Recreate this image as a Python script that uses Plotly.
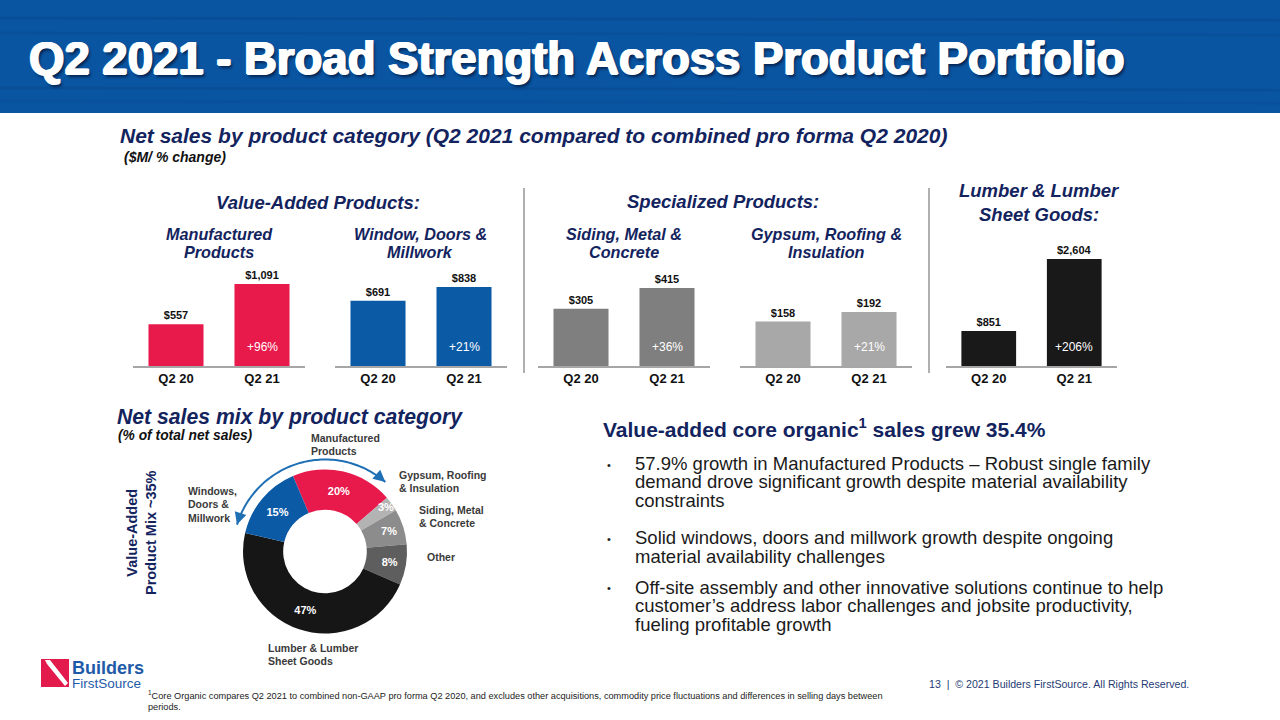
import numpy as np
import plotly.graph_objects as go

W, H = 1280, 720
FONT = "Liberation Sans"
NAVY = "#13235e"


def px(x):
    return x / W


def py(y):
    return 1 - y / H


# ---------------- data ----------------
quarters = ["Q2 20", "Q2 21"]
manufactured = [557, 1091]
windows_doors = [691, 838]
siding_metal = [305, 415]
gypsum_roofing = [158, 192]
lumber = [851, 2604]
pct_change = ["+96%", "+21%", "+36%", "+21%", "+206%"]

mix_labels = ["Manufactured Products", "Gypsum, Roofing & Insulation",
              "Siding, Metal & Concrete", "Other",
              "Lumber & Lumber Sheet Goods", "Windows, Doors & Millwork"]
mix_values = [20, 3, 7, 8, 47, 15]

# ---------------- panel styling ----------------
panels = [
    (manufactured, "#e8194b", (133, 305), 1543),
    (windows_doors, "#0b5aa6", (335, 507), 1230),
    (siding_metal, "#7f7f7f", (538, 710), 617),
    (gypsum_roofing, "#a8a8a8", (740, 912), 412),
    (lumber, "#191919", (946, 1117), 2823),
]
BASE_Y, TOP_Y = 366, 250

fig = go.Figure()
layout = dict(
    width=W, height=H, margin=dict(l=0, r=0, t=0, b=0),
    paper_bgcolor="white", plot_bgcolor="white", showlegend=False,
    font=dict(family=FONT),
)
annotations = []
shapes = []

for i, (vals, color, (xa, xb), ymax) in enumerate(panels):
    sfx = "" if i == 0 else str(i + 1)
    fig.add_trace(go.Bar(
        x=quarters, y=vals, marker=dict(color=color, line=dict(width=0)), width=0.64,
        text=[f"${v:,}" for v in vals], textposition="outside",
        textfont=dict(size=11, color="#111111", family=FONT, weight="bold"),
        cliponaxis=False, xaxis=f"x{sfx}", yaxis=f"y{sfx}", hoverinfo="skip",
    ))
    layout[f"xaxis{sfx}"] = dict(
        domain=[px(xa), px(xb)], anchor=f"y{sfx}", range=[-0.5, 1.5],
        showline=True, linecolor="#a6a6a6", linewidth=1.5, showgrid=False,
        zeroline=False, ticks="", fixedrange=True,
        tickfont=dict(size=13, color="#111111", family=FONT, weight="bold"),
    )
    layout[f"yaxis{sfx}"] = dict(
        domain=[py(BASE_Y), py(TOP_Y)], anchor=f"x{sfx}", range=[0, ymax],
        visible=False, fixedrange=True,
    )
    annotations.append(dict(
        x=quarters[1], y=19 / (BASE_Y - TOP_Y), xref=f"x{sfx}", yref=f"y{sfx} domain",
        text=pct_change[i], showarrow=False, yanchor="middle",
        font=dict(size=12, color="white", family=FONT),
    ))

# donut
CX, CY, R = 325, 551.5, 82
ROT = -23
pie_text = [f"{v}%" if v >= 5 else "" for v in mix_values]
fig.add_trace(go.Pie(
    labels=mix_labels, values=mix_values, sort=False, direction="clockwise",
    rotation=ROT, hole=0.51,
    marker=dict(colors=["#e8194b", "#b3b3b3", "#8c8c8c", "#5e5e5e", "#161616", "#0b5aa6"],
                line=dict(width=0)),
    text=pie_text, textinfo="text", textposition="inside", insidetextorientation="horizontal",
    textfont=dict(size=11, color="white", family=FONT, weight="bold"),
    domain=dict(x=[px(CX - R), px(CX + R)], y=[py(CY + R), py(CY - R)]),
    showlegend=False, hoverinfo="label+percent",
))
# labels for slices too thin to hold their text inside
total = sum(mix_values)
cum = 0
for v in mix_values:
    if v < 5:
        mid = np.radians(ROT + (cum + v / 2) / total * 360)
        rr = 63
        annotations.append(dict(
            x=px(CX + rr * np.sin(mid)), y=py(CY - rr * np.cos(mid)), xref="paper", yref="paper",
            text=f"{v}%", showarrow=False,
            font=dict(size=11, color="white", family=FONT, weight="bold")))
    cum += v


def label(x, y, text, size, color="#111111", bold=False, italic=False,
          xanchor="left", angle=0, shadow=None):
    f = dict(size=size, color=color, family=FONT,
             weight="bold" if bold else "normal",
             style="italic" if italic else "normal")
    if shadow:
        f["shadow"] = shadow
    annotations.append(dict(
        x=px(x), y=py(y), xref="paper", yref="paper", text=text, showarrow=False,
        xanchor=xanchor, yanchor="middle", textangle=angle, font=f,
    ))


# banner
shapes.append(dict(type="rect", xref="paper", yref="paper", x0=0, x1=1,
                   y0=py(113), y1=1, fillcolor="#0a55a2", line=dict(width=0), layer="below"))
for (y0, op) in [(18, 0.10), (33, 0.07), (88, 0.09), (101, 0.06)]:
    shapes.append(dict(type="line", xref="paper", yref="paper", x0=0, x1=1,
                       y0=py(y0), y1=py(y0 + 2), line=dict(color=f"rgba(0,20,60,{op})", width=3),
                       layer="below"))
label(27, 58, "Q2 2021 - Broad Strength Across Product Portfolio", 45.5, "white", bold=True,
      shadow="1px 0 0 #ffffff, -1px 0 0 #ffffff, 0 1px 0 #ffffff, 2px 3px 3px rgba(0,15,45,0.7)")

# subtitles
label(118, 135, "Net sales by product category (Q2 2021 compared to combined pro forma Q2 2020)",
      21, NAVY, bold=True, italic=True)
label(122, 157, "($M/ % change)", 14, "#111111", bold=True, italic=True)

# section headers
label(318, 202, "Value-Added Products:", 18.5, NAVY, True, True, "center")
label(723, 201, "Specialized Products:", 18.5, NAVY, True, True, "center")
label(1039, 191, "Lumber &amp; Lumber", 18.5, NAVY, True, True, "center")
label(1039, 214, "Sheet Goods:", 18.5, NAVY, True, True, "center")
for cx, l1, l2 in [(219, "Manufactured", "Products"), (420, "Window, Doors &amp;", "Millwork"),
                   (624, "Siding, Metal &amp;", "Concrete"), (826, "Gypsum, Roofing &amp;", "Insulation")]:
    label(cx, 234, l1, 16.2, NAVY, True, True, "center")
    label(cx, 252.5, l2, 16.2, NAVY, True, True, "center")

# separators
for sx in (524, 929):
    shapes.append(dict(type="line", xref="paper", yref="paper", x0=px(sx), x1=px(sx),
                       y0=py(188), y1=py(373), line=dict(color="#b0b0b0", width=2)))

# mix section
label(115, 417, "Net sales mix by product category", 21.2, NAVY, True, True)
label(116, 436, "(% of total net sales)", 13.8, "#111111", True, True)
label(141, 533, "Value-Added<br>Product Mix ~35%", 14.5, NAVY, True, False, "center", -90)

GREY = "#3a3a3a"
label(309, 438, "Manufactured", 10.5, GREY, True)
label(309, 450.5, "Products", 10.5, GREY, True)
label(397, 475, "Gypsum, Roofing", 10.5, GREY, True)
label(397, 488, "&amp; Insulation", 10.5, GREY, True)
label(417, 510, "Siding, Metal", 10.5, GREY, True)
label(417, 523, "&amp; Concrete", 10.5, GREY, True)
label(425, 557, "Other", 10.5, GREY, True)
label(186, 491, "Windows,", 10.5, GREY, True)
label(186, 504.5, "Doors &amp;", 10.5, GREY, True)
label(186, 517.5, "Millwork", 10.5, GREY, True)
label(266, 648, "Lumber &amp; Lumber", 10.5, GREY, True)
label(266, 661, "Sheet Goods", 10.5, GREY, True)

# arc arrow around value-added slices
AR = 92
a0, a1 = -73.0, 41.0
ang = np.radians(np.linspace(a0, a1, 80))
xs = CX + AR * np.sin(ang)
ys = CY - AR * np.cos(ang)
path = "M " + " L ".join(f"{px(x):.5f},{py(y):.5f}" for x, y in zip(xs, ys))
ARC_C = "#1f6fb5"
shapes.append(dict(type="path", xref="paper", yref="paper", path=path,
                   line=dict(color=ARC_C, width=2)))
for a, sgn in [(a0, -1), (a1, 1)]:
    t = np.radians(a)
    tx, ty = CX + AR * np.sin(t), CY - AR * np.cos(t)
    dx, dy = sgn * np.cos(t), sgn * np.sin(t)
    annotations.append(dict(x=px(tx), y=py(ty), xref="paper", yref="paper", text="",
                            showarrow=True, arrowhead=2, arrowsize=1.2, arrowwidth=2,
                            arrowcolor=ARC_C, ax=-dx * 9, ay=-dy * 9))

# right text block
label(601, 428, "Value-added core organic<sup>1</sup> sales grew 35.4%", 21, NAVY, True)
TXT = "#1a1a1a"
bullets = [
    [463.5, 482, 500.5], [537.5, 556], [587, 605.5, 624]
]
lines = [
    ["57.9% growth in Manufactured Products – Robust single family",
     "demand drove significant growth despite material availability",
     "constraints"],
    ["Solid windows, doors and millwork growth despite ongoing",
     "material availability challenges"],
    ["Off-site assembly and other innovative solutions continue to help",
     "customer’s address labor challenges and jobsite productivity,",
     "fueling profitable growth"],
]
for ys_, ls in zip(bullets, lines):
    label(605, ys_[0] + 1, "•", 11, TXT)
    for yy, tt in zip(ys_, ls):
        label(633, yy, tt, 18.5, TXT)

# logo
shapes.append(dict(type="rect", xref="paper", yref="paper", x0=px(41), x1=px(69),
                   y0=py(687), y1=py(659), fillcolor="#e31b4c", line=dict(width=0)))
shapes.append(dict(type="path", xref="paper", yref="paper",
                   path=f"M {px(45)},{py(660)} L {px(50)},{py(660)} L {px(68)},{py(683)} "
                        f"L {px(65)},{py(686)} L {px(47)},{py(664)} Z",
                   fillcolor="white", line=dict(width=0)))
label(70, 668, "Builders", 18, "#1e5aa8", True)
label(70, 683, "FirstSource", 13.5, "#1e5aa8")

# footer
label(146, 695, "<sup>1</sup>Core Organic compares Q2 2021 to combined non-GAAP pro forma Q2 2020, and excludes other acquisitions, commodity price fluctuations and differences in selling days between",
      9.2, "#222222")
label(146, 707, "periods.", 9.2, "#222222")
label(927, 684, "13  |  © 2021 Builders FirstSource. All Rights Reserved.", 10.6, "#1f3b75")

layout["annotations"] = annotations
layout["shapes"] = shapes
fig.update_layout(**layout)

fig.write_html("out.html", config={"displayModeBar": False},
               post_script="document.body.style.margin='0';")
